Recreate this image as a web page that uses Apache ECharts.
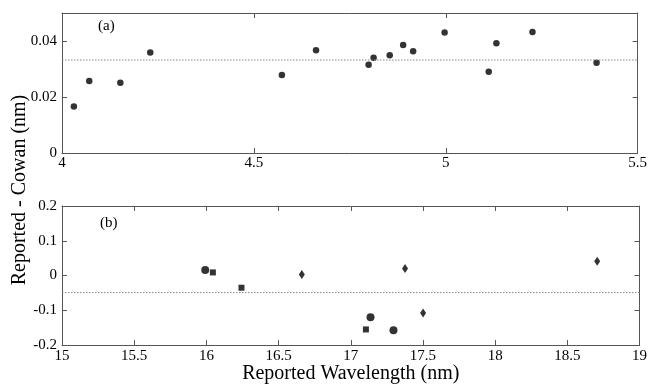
<!DOCTYPE html>
<html>
<head>
<meta charset="utf-8">
<script src="https://cdn.jsdelivr.net/npm/echarts@6/dist/echarts.min.js"></script>
<style>
html,body{margin:0;padding:0;background:#fff;}
#c{width:650px;height:385px;}
</style>
</head>
<body>
<div id="c"></div>
<script>
// Panel (a)
var aX = [4.031, 4.071, 4.152, 4.230, 4.573, 4.662, 4.799, 4.812, 4.854, 4.889, 4.915, 4.997, 5.112, 5.132, 5.226, 5.393];
var aY = [0.0166, 0.0257, 0.0251, 0.0359, 0.0279, 0.0367, 0.0315, 0.0340, 0.0349, 0.0386, 0.0363, 0.0430, 0.0290, 0.0392, 0.0432, 0.0322];
var aMean = 0.0332;

// Panel (b)
var bCircleX = [15.992, 17.137, 17.296];
var bCircleY = [0.016, -0.120, -0.157];
var bSquareX = [16.045, 16.243, 17.105];
var bSquareY = [0.009, -0.035, -0.155];
var bDiamondX = [16.661, 17.376, 17.501, 18.707];
var bDiamondY = [0.003, 0.020, -0.108, 0.041];
var bMean = -0.049;

var aXTicks = [4, 4.5, 5, 5.5];
var aYTicks = [0, 0.02, 0.04];
var aYMax = 0.05;
var bXTicks = [15, 15.5, 16, 16.5, 17, 17.5, 18, 18.5, 19];
var bYTicks = [-0.2, -0.1, 0, 0.1, 0.2];

function pairs(xs, ys){ return xs.map(function(x,i){ return [x, ys[i]]; }); }

var FONT = '"Liberation Serif", "Times New Roman", serif';
var AX = '#555';
var lab = {fontFamily: FONT, fontSize: 15, color: '#000'};

function xAx(grid, ticks, pos, showLabel, extra){
  var o = {
    type:'value', gridIndex:grid, min:ticks[0], max:ticks[ticks.length-1], interval:ticks[1]-ticks[0], position:pos,
    axisLine:{show:true, onZero:false, lineStyle:{color:AX, width:1}},
    axisTick:{show:true, inside:true, length:5, lineStyle:{color:AX}},
    axisLabel:Object.assign({show:showLabel, margin:3}, lab),
    splitLine:{show:false}
  };
  return Object.assign(o, extra||{});
}
function yAx(grid, min, max, interval, pos, showLabel, hideMax){
  return {
    type:'value', gridIndex:grid, min:min, max:max, interval:interval, position:pos,
    axisLine:{show:true, onZero:false, lineStyle:{color:AX, width:1}},
    axisTick:{show:true, inside:true, length:5, lineStyle:{color:AX}},
    axisLabel:Object.assign({show:showLabel, margin:5, showMaxLabel: !hideMax}, lab),
    splitLine:{show:false}
  };
}

var chart = echarts.init(document.getElementById('c'), null, {renderer:'canvas'});
var meanStyle = {color:'#888', type:[1.5,1.5], width:1};
chart.setOption({
  animation:false,
  backgroundColor:'#fff',
  grid:[
    {left:62, top:13, width:580, height:140},
    {left:62, top:206, width:580, height:142}
  ],
  xAxis:[
    xAx(0, aXTicks, 'bottom', true),
    xAx(0, aXTicks, 'top', false),
    xAx(1, bXTicks, 'bottom', true, {
      name:'Reported Wavelength (nm)', nameLocation:'middle', nameGap:9,
      nameTextStyle:{fontFamily:FONT, fontSize:20, color:'#000', verticalAlign:'top'}
    }),
    xAx(1, bXTicks, 'top', false)
  ],
  yAxis:[
    yAx(0, aYTicks[0], aYMax, aYTicks[1]-aYTicks[0], 'left', true, true),
    yAx(0, aYTicks[0], aYMax, aYTicks[1]-aYTicks[0], 'right', false, true),
    yAx(1, bYTicks[0], bYTicks[bYTicks.length-1], 0.1, 'left', true, false),
    yAx(1, bYTicks[0], bYTicks[bYTicks.length-1], 0.1, 'right', false, false)
  ],
  graphic:[
    {type:'text', left:98, top:19, style:{text:'(a)', font:'15px "Liberation Serif"', fill:'#000'}},
    {type:'text', left:100, top:216, style:{text:'(b)', font:'15px "Liberation Serif"', fill:'#000'}},
    {type:'text', x:20, y:190, rotation:Math.PI/2,
     style:{text:'Reported - Cowan (nm)', font:'20px "Liberation Serif"', fill:'#000', align:'center', verticalAlign:'middle'}}
  ],
  series:[
    {type:'line', xAxisIndex:0, yAxisIndex:0, symbol:'none', silent:true,
     lineStyle:meanStyle, data:[[aXTicks[0], aMean],[aXTicks[aXTicks.length-1], aMean]]},
    {type:'line', xAxisIndex:2, yAxisIndex:2, symbol:'none', silent:true,
     lineStyle:meanStyle, data:[[bXTicks[0], bMean],[bXTicks[bXTicks.length-1], bMean]]},
    {type:'scatter', xAxisIndex:0, yAxisIndex:0, symbol:'circle', symbolSize:6.5,
     itemStyle:{color:'#000'}, data:pairs(aX, aY)},
    {type:'scatter', xAxisIndex:2, yAxisIndex:2, symbol:'circle', symbolSize:8,
     itemStyle:{color:'#000'}, data:pairs(bCircleX, bCircleY)},
    {type:'scatter', xAxisIndex:2, yAxisIndex:2, symbol:'rect', symbolSize:6,
     itemStyle:{color:'#000'}, data:pairs(bSquareX, bSquareY)},
    {type:'scatter', xAxisIndex:2, yAxisIndex:2, symbol:'diamond', symbolSize:[6,9],
     itemStyle:{color:'#000'}, data:pairs(bDiamondX, bDiamondY)}
  ]
});
</script>
</body>
</html>
